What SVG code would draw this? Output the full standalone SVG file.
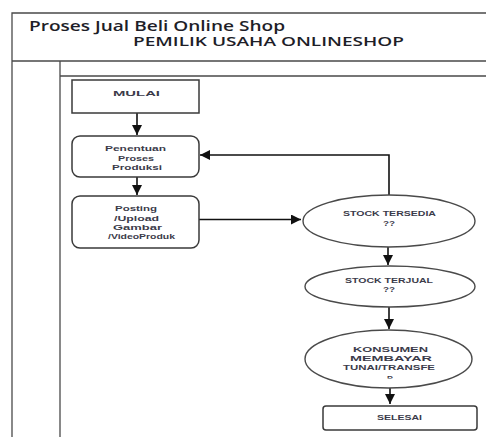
<svg xmlns="http://www.w3.org/2000/svg" width="486" height="437" viewBox="0 0 486 437">
<style>
.frame{fill:none;stroke:#4a4a4a;stroke-width:1.3}
.box{fill:#fff;stroke:#3a3a3a;stroke-width:1.5}
.ell{fill:#fff;stroke:#4a4a4a;stroke-width:1.4}
.conn{fill:none;stroke:#111;stroke-width:1.6}
.t{font-family:"Liberation Sans",Arial,sans-serif;font-size:7.5px;font-weight:bold;fill:#3b3b4a;text-anchor:middle}
.title{font-family:"Open Sans","Liberation Sans",sans-serif;font-weight:600;fill:#1e1e28}
</style>
<defs>
<marker id="ah" viewBox="0 0 10 10" refX="10" refY="5" markerWidth="10" markerHeight="10" markerUnits="userSpaceOnUse" orient="auto">
<path d="M0,0 L10,5 L0,10 Z" fill="#111"/>
</marker>
<clipPath id="rclip"><rect x="380" y="370" width="20" height="8.5"/></clipPath>
</defs>
<rect width="486" height="437" fill="#fff"/>
<g id="frame">
<path class="frame" d="M490,13 H12 V437 M12,61 H490 M60,61 V437 M60,76 H490"/>
<text class="title" x="29" y="31" font-size="14" textLength="256" lengthAdjust="spacingAndGlyphs">Proses Jual Beli Online Shop</text>
<text class="title" x="133" y="46" font-size="13" textLength="271" lengthAdjust="spacingAndGlyphs">PEMILIK USAHA ONLINESHOP</text>
</g>
<g id="connectors">
<path class="conn" d="M137,113 V135" marker-end="url(#ah)"/>
<path class="conn" d="M137,177 V195" marker-end="url(#ah)"/>
<path class="conn" d="M199,219.5 H301" marker-end="url(#ah)"/>
<path class="conn" d="M389,195 V155 H200" marker-end="url(#ah)"/>
<path class="conn" d="M388,247 V265" marker-end="url(#ah)"/>
<path class="conn" d="M389,307 V329" marker-end="url(#ah)"/>
<path class="conn" d="M390,388 V404" marker-end="url(#ah)"/>
</g>
<g id="mulai">
<rect class="box" x="72" y="80" width="127" height="33"/>
<text class="t" x="136.5" y="96" textLength="47" lengthAdjust="spacingAndGlyphs">MULAI</text>
</g>
<g id="penentuan">
<rect class="box" x="72" y="136" width="127" height="41" rx="8"/>
<text class="t" x="135.5" y="151" textLength="61" lengthAdjust="spacingAndGlyphs">Penentuan</text>
<text class="t" x="136" y="160.5" textLength="36" lengthAdjust="spacingAndGlyphs">Proses</text>
<text class="t" x="137" y="169.5" textLength="50" lengthAdjust="spacingAndGlyphs">Produksi</text>
</g>
<g id="posting">
<rect class="box" x="72" y="196" width="127" height="52" rx="8"/>
<text class="t" x="136" y="211" textLength="42" lengthAdjust="spacingAndGlyphs">Posting</text>
<text class="t" x="136.5" y="221" textLength="45" lengthAdjust="spacingAndGlyphs">/Upload</text>
<text class="t" x="137.5" y="229.5" textLength="49" lengthAdjust="spacingAndGlyphs">Gambar</text>
<text class="t" x="141.5" y="239" textLength="67" lengthAdjust="spacingAndGlyphs">/VideoProduk</text>
</g>
<g id="stock-tersedia">
<ellipse class="ell" cx="389" cy="221" rx="86" ry="26"/>
<text class="t" x="389.5" y="216" textLength="93" lengthAdjust="spacingAndGlyphs">STOCK TERSEDIA</text>
<text class="t" x="389" y="225.7" textLength="12" lengthAdjust="spacingAndGlyphs">??</text>
</g>
<g id="stock-terjual">
<ellipse class="ell" cx="390" cy="286.5" rx="85" ry="20.5"/>
<text class="t" x="389" y="283" textLength="88" lengthAdjust="spacingAndGlyphs">STOCK TERJUAL</text>
<text class="t" x="389" y="292" textLength="12" lengthAdjust="spacingAndGlyphs">??</text>
</g>
<g id="konsumen">
<ellipse class="ell" cx="388.5" cy="359" rx="83.5" ry="29"/>
<text class="t" x="390.5" y="352" textLength="75" lengthAdjust="spacingAndGlyphs">KONSUMEN</text>
<text class="t" x="391" y="360.5" textLength="82" lengthAdjust="spacingAndGlyphs">MEMBAYAR</text>
<text class="t" x="389" y="370" textLength="92" lengthAdjust="spacingAndGlyphs">TUNAI/TRANSFE</text>
<text class="t" x="390" y="381" textLength="6" lengthAdjust="spacingAndGlyphs" clip-path="url(#rclip)">R</text>
</g>
<g id="selesai">
<rect class="box" x="323" y="406" width="154" height="24" rx="3"/>
<text class="t" x="399.5" y="420" textLength="45" lengthAdjust="spacingAndGlyphs">SELESAI</text>
</g>
</svg>
